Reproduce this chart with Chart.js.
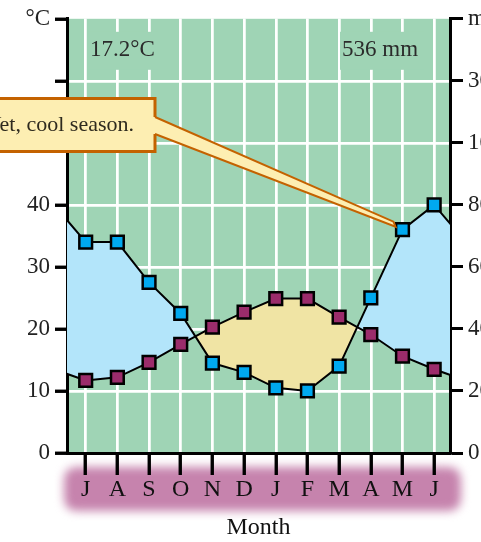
<!DOCTYPE html>
<html><head><meta charset="utf-8">
<script src="https://cdn.jsdelivr.net/npm/chart.js@4/dist/chart.umd.min.js"></script>
<style>html,body{margin:0;padding:0;background:#fff;overflow:hidden}canvas{display:block}</style>
</head><body>
<canvas id="c" width="481" height="542"></canvas>
<script>
// ---- data ----
const months = ['J','A','S','O','N','D','J','F','M','A','M','J'];
const temperature = [11.7, 12.2, 14.6, 17.5, 20.3, 22.7, 24.9, 24.9, 21.9, 19.1, 15.6, 13.5]; // °C
const precipitation = [68, 68, 55, 45, 29, 26, 21, 20, 28, 50, 72, 80]; // mm
const leftTickLabels = {0:'0', 10:'10', 20:'20', 30:'30', 40:'40', 70:'°C'};
const rightTickLabels = {0:'0', 20:'20', 40:'40', 60:'60', 80:'80', 100:'100', 120:'300', 140:'mm'};
const meanTempText = '17.2°C';
const totalPrecipText = '536 mm';
const calloutText = 'Wet, cool season.';
const calloutMonthIndex = 10;

const FONT = '"Liberation Serif", "Times New Roman", serif';
const GREEN = '#9fd4b5';

// cyclic climate diagram: neighbours of the year on both sides
function cyclic(arr) {
  const pts = arr.map((v, i) => ({x: i, y: v}));
  pts.unshift({x: -1, y: arr[arr.length - 1]});
  pts.push({x: arr.length, y: arr[0]});
  return pts;
}

function rr(ctx, x, y, w, h, r) {
  ctx.beginPath();
  ctx.moveTo(x + r, y);
  ctx.lineTo(x + w - r, y); ctx.quadraticCurveTo(x + w, y, x + w, y + r);
  ctx.lineTo(x + w, y + h - r); ctx.quadraticCurveTo(x + w, y + h, x + w - r, y + h);
  ctx.lineTo(x + r, y + h); ctx.quadraticCurveTo(x, y + h, x, y + h - r);
  ctx.lineTo(x, y + r); ctx.quadraticCurveTo(x, y, x + r, y);
  ctx.closePath();
}

const decor = {
  id: 'decor',
  beforeDraw(chart) {
    const {ctx, chartArea: a} = chart;
    ctx.save();
    ctx.fillStyle = GREEN;
    ctx.fillRect(a.left, a.top, a.right - a.left, a.bottom - a.top);
    // month band
    ctx.filter = 'blur(5px)';
    ctx.fillStyle = '#c683ad';
    rr(ctx, a.left - 3, a.bottom + 14, a.right - a.left + 14, 44, 14);
    ctx.fill();
    ctx.filter = 'none';
    ctx.restore();
  },
  beforeDatasetsDraw(chart) {
    const {ctx, chartArea: a} = chart;
    // grid over the fills
    ['x', 'y'].forEach(id => { chart.scales[id].drawGrid(a); });
    ['x', 'y', 'y2'].forEach(id => { const s = chart.scales[id]; if (typeof s.drawBorder === 'function') s.drawBorder(); });
    ctx.save();
    ctx.fillStyle = GREEN;
    ctx.fillRect(a.left + 21, a.top + 13, 70, 38);
    ctx.fillRect(a.left + 273, a.top + 13, 84, 38);
    ctx.fillStyle = '#2b2b2b';
    ctx.font = '23px ' + FONT;
    ctx.textBaseline = 'middle';
    ctx.textAlign = 'left';
    ctx.fillText(meanTempText, a.left + 23, a.top + 31);
    ctx.fillText(totalPrecipText, a.left + 275, a.top + 31);
    ctx.restore();
  },
  afterDraw(chart) {
    const {ctx} = chart;
    const p = chart.getDatasetMeta(1).data[calloutMonthIndex + 1];
    const tip = {x: p.x - 8, y: p.y - 6};
    const boxR = 155, boxT = 98.5, boxB = 151.5;
    ctx.save();
    // box
    ctx.fillStyle = '#fdeeb2';
    ctx.strokeStyle = '#c46200';
    ctx.lineWidth = 3;
    ctx.beginPath();
    ctx.rect(-10, boxT, boxR + 10, boxB - boxT);
    ctx.fill(); ctx.stroke();
    // pointer
    const a1 = {x: boxR, y: 117}, a2 = {x: boxR, y: 134};
    ctx.beginPath();
    ctx.moveTo(boxR - 4, a1.y);
    ctx.lineTo(a1.x, a1.y);
    ctx.lineTo(tip.x - 1, tip.y - 2);
    ctx.lineTo(tip.x + 1, tip.y + 3);
    ctx.lineTo(a2.x, a2.y);
    ctx.lineTo(boxR - 4, a2.y);
    ctx.closePath();
    ctx.fill();
    ctx.lineWidth = 2;
    ctx.beginPath();
    ctx.moveTo(a1.x, a1.y); ctx.lineTo(tip.x - 1, tip.y - 2); ctx.lineTo(tip.x + 1, tip.y + 3); ctx.lineTo(a2.x, a2.y);
    ctx.stroke();
    // text
    ctx.fillStyle = '#2e2a1e';
    ctx.font = '22px ' + FONT;
    ctx.textAlign = 'right';
    ctx.textBaseline = 'alphabetic';
    ctx.fillText(calloutText, 134, 131);
    ctx.restore();
  }
};

const hideEdge = ctx => (ctx.tick && (ctx.tick.value === 0 || ctx.tick.value === 70)) ? 'rgba(0,0,0,0)' : '#ffffff';

new Chart(document.getElementById('c'), {
  type: 'line',
  data: {
    datasets: [
      {
        label: 'Temperature',
        data: cyclic(temperature),
        yAxisID: 'y',
        borderColor: '#000', borderWidth: 2,
        pointStyle: 'rect', pointRadius: 9, pointBorderWidth: 2.5,
        pointBackgroundColor: '#9b2c6b', pointBorderColor: '#000',
        fill: false, tension: 0
      },
      {
        label: 'Precipitation',
        data: cyclic(precipitation),
        yAxisID: 'y2',
        borderColor: '#000', borderWidth: 2,
        pointStyle: 'rect', pointRadius: 9, pointBorderWidth: 2.5,
        pointBackgroundColor: '#00a9f0', pointBorderColor: '#000',
        fill: {target: 0, above: '#b3e5fa', below: '#f0e4a4'}, tension: 0
      }
    ]
  },
  options: {
    responsive: false, animation: false, devicePixelRatio: 1,
    layout: {padding: {top: 17, left: 0, right: 0, bottom: 0}},
    plugins: {legend: {display: false}, tooltip: {enabled: false}},
    scales: {
      x: {
        type: 'linear', min: -0.59, max: 11.5,
        afterBuildTicks: s => { s.ticks = months.map((m, i) => ({value: i})); },
        afterFit: s => { s.height = 89; },
        grid: {color: '#ffffff', lineWidth: 2.5, tickColor: '#000', tickWidth: 3, tickLength: 22},
        border: {display: true, color: '#000', width: 3},
        ticks: {autoSkip: false, maxRotation: 0, padding: 0, color: '#111',
          font: {family: FONT, size: 24}, callback: v => months[v] ?? ''},
        title: {display: true, text: 'Month', color: '#111', font: {family: FONT, size: 24}, padding: {top: 0, bottom: 0}}
      },
      y: {
        position: 'left', min: 0, max: 70,
        afterFit: s => { s.width = 67; },
        grid: {color: hideEdge, lineWidth: 2.5, tickColor: '#000', tickWidth: 3, tickLength: 12},
        border: {display: true, color: '#000', width: 3},
        ticks: {stepSize: 10, padding: 5, color: '#222', font: {family: FONT, size: 23},
          callback: v => leftTickLabels[v] ?? ''}
      },
      y2: {
        position: 'right', min: 0, max: 140,
        afterFit: s => { s.width = 31; },
        grid: {drawOnChartArea: false, tickColor: '#000', tickWidth: 3, tickLength: 13},
        border: {display: true, color: '#000', width: 3},
        ticks: {stepSize: 20, padding: 5, color: '#222', font: {family: FONT, size: 23},
          callback: v => rightTickLabels[v] ?? ''}
      }
    }
  },
  plugins: [decor]
});
</script>
</body></html>
